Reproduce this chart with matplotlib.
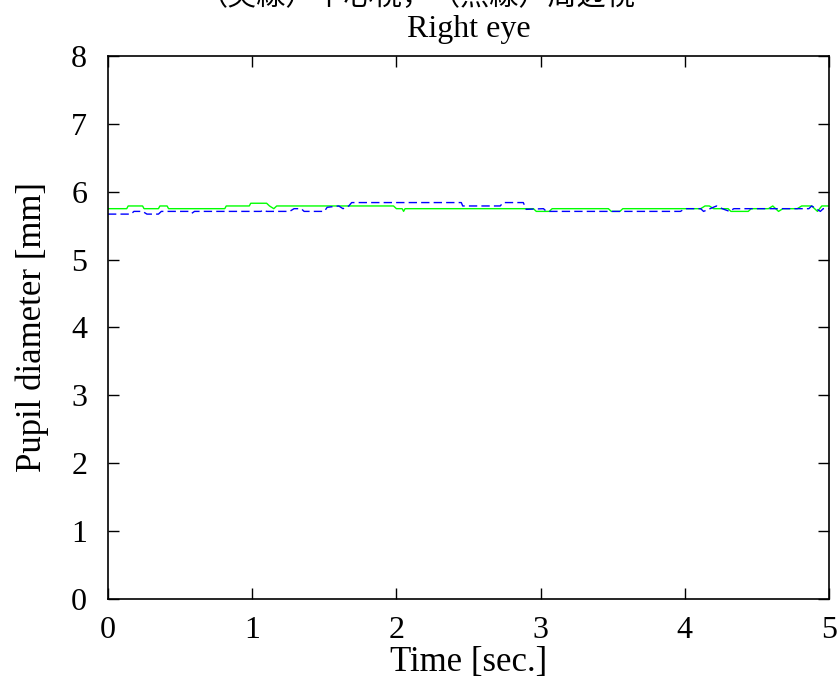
import numpy as np
import matplotlib.pyplot as plt

plt.rcParams['font.family'] = ['Liberation Serif', 'Noto Sans CJK JP', 'DejaVu Sans']
plt.rcParams['mathtext.fontset'] = 'stix'

########## dados ##########
# linha verde (continua)
t_green = [0.00, 0.13, 0.14, 0.24, 0.25, 0.35, 0.36, 0.41, 0.42, 0.81, 0.82,
           0.98, 0.99, 1.10, 1.12, 1.15, 1.17, 1.98, 2.00, 2.04, 2.05, 2.06,
           2.95, 2.97, 3.06, 3.08, 3.47, 3.49, 3.55, 3.57, 4.11, 4.14, 4.17,
           4.20, 4.30, 4.32, 4.44, 4.46, 4.58, 4.61, 4.65, 4.68, 4.78, 4.81,
           4.88, 4.92, 4.95, 5.00]
d_green = [5.75, 5.75, 5.79, 5.79, 5.75, 5.75, 5.79, 5.79, 5.75, 5.75, 5.79,
           5.79, 5.83, 5.83, 5.79, 5.75, 5.79, 5.79, 5.75, 5.75, 5.71, 5.75,
           5.75, 5.71, 5.71, 5.75, 5.75, 5.71, 5.71, 5.75, 5.75, 5.79, 5.79,
           5.75, 5.75, 5.71, 5.71, 5.75, 5.75, 5.79, 5.71, 5.75, 5.75, 5.79,
           5.79, 5.71, 5.79, 5.79]

# linha azul (tracejada)
t_blue = [0.00, 0.16, 0.18, 0.24, 0.27, 0.35, 0.37, 0.56, 0.58, 0.60, 1.06,
          1.08, 1.10, 1.26, 1.29, 1.34, 1.36, 1.50, 1.52, 1.60, 1.63, 1.67,
          1.69, 2.45, 2.46, 2.72, 2.74, 2.88, 2.90, 3.02, 3.04, 3.97, 4.00,
          4.11, 4.13, 4.22, 4.26, 4.31, 4.34, 4.86, 4.88, 4.94, 4.96, 5.00]
d_blue = [5.67, 5.67, 5.71, 5.71, 5.67, 5.67, 5.71, 5.71, 5.68, 5.71, 5.71,
          5.73, 5.71, 5.71, 5.75, 5.75, 5.71, 5.71, 5.77, 5.79, 5.75, 5.79,
          5.84, 5.84, 5.79, 5.79, 5.84, 5.84, 5.74, 5.75, 5.71, 5.71, 5.75,
          5.75, 5.71, 5.79, 5.75, 5.71, 5.75, 5.75, 5.79, 5.71, 5.75, 5.75]

x_ticks = [0, 1, 2, 3, 4, 5]
y_ticks = [0, 1, 2, 3, 4, 5, 6, 7, 8]

########## figura ##########
fig = plt.figure(figsize=(8.39, 6.84), dpi=100)
ax = fig.add_axes([0.1287, 0.1243, 0.8594, 0.7939])

ax.plot(t_green, d_green, color='#00ff00', lw=1.0)
ax.plot(t_blue, d_blue, color='#0000ff', lw=1.0, ls=(0, (6, 3)))

ax.set_xlim(0, 5)
ax.set_ylim(0, 8)
ax.set_xticks(x_ticks)
ax.set_yticks(y_ticks)
ax.tick_params(direction='in', length=8, width=1, top=True, right=True,
               labelsize=23)
ax.tick_params(axis='x', pad=12)
ax.tick_params(axis='y', pad=15)
for s in ax.spines.values():
    s.set_linewidth(1.2)

ax.set_xlabel('Time [sec.]', fontsize=25, labelpad=1)
ax.set_ylabel('Pupil diameter [mm]', fontsize=25, labelpad=16)
ax.set_title('Right eye', fontsize=23, pad=14)

fig.text(0.497, 0.993, '（実線）中心視，（点線）周辺視', fontsize=21,
         ha='center', va='baseline',
         family=['Noto Sans CJK JP', 'DejaVu Sans'])

fig.savefig('out.png', dpi=100)
